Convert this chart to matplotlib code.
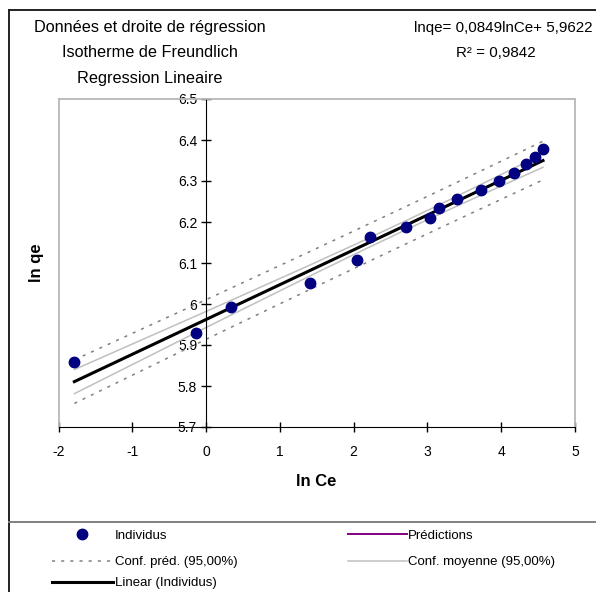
import numpy as np
import matplotlib
matplotlib.use('Agg')
import matplotlib.pyplot as plt
from matplotlib.lines import Line2D

plt.rcParams['font.family'] = ['Liberation Sans', 'DejaVu Sans']

# Freundlich isotherm, linearised: ln qe against ln Ce
ln_ce = [-1.785, -0.136, 0.334, 1.41, 2.04, 2.226, 2.71, 3.04,
         3.16, 3.405, 3.73, 3.974, 4.178, 4.34, 4.462, 4.566]
ln_qe = [5.858, 5.930, 5.993, 6.051, 6.107, 6.163, 6.188, 6.209,
         6.235, 6.256, 6.277, 6.299, 6.320, 6.341, 6.358, 6.378]

slope = 0.0849
intercept = 5.9622
eq_label = 'lnqe= 0,0849lnCe+ 5,9622'
r2_label = 'R² = 0,9842'
t_975 = 2.145  # Student t, 14 ddl

x_ticks = [-2, -1, 0, 1, 2, 3, 4, 5]
y_ticks = [5.7, 5.8, 5.9, 6.0, 6.1, 6.2, 6.3, 6.4, 6.5]
y_tick_labels = ['5.7', '5.8', '5.9', '6', '6.1', '6.2', '6.3', '6.4', '6.5']

title_lines = ['Données et droite de régression',
               'Isotherme de Freundlich',
               'Regression Lineaire']

W, H = 596, 592
fig = plt.figure(figsize=(W / 100, H / 100), dpi=100)


def fx(px):
    return px / W


def fy(py):
    return 1 - py / H


ax = fig.add_axes([fx(58.5), fy(427), fx(575) - fx(58.5), fy(99) - fy(427)])

# regression + 95% bands
x = np.array(ln_ce)
y = np.array(ln_qe)
order = np.argsort(x)
xs = x[order]
fit = intercept + slope * xs
n = len(x)
resid = y - (intercept + slope * x)
s = np.sqrt(np.sum(resid ** 2) / (n - 2))
sxx = np.sum((x - x.mean()) ** 2)
h_mean = t_975 * s * np.sqrt(1 / n + (xs - x.mean()) ** 2 / sxx)
h_pred = t_975 * s * np.sqrt(1 + 1 / n + (xs - x.mean()) ** 2 / sxx)

pred_style = dict(color='#808080', lw=1.1, linestyle=(0, (2, 4)))
mean_style = dict(color='#c0c0c0', lw=1.1)

ax.plot(xs, fit + h_pred, **pred_style, zorder=2)
ax.plot(xs, fit - h_pred, **pred_style, zorder=2)
ax.plot(xs, fit + h_mean, **mean_style, zorder=2)
ax.plot(xs, fit - h_mean, **mean_style, zorder=2)
ax.plot(xs, fit, color='#800080', lw=1.1, zorder=3)
ax.plot(xs, fit, color='black', lw=2.2, zorder=4)
ax.plot(x, y, 'o', color='#000080', ms=7.5, zorder=5)

ax.set_xlim(-2, 5)
ax.set_ylim(5.7, 6.5)
ax.set_xticks(x_ticks)
ax.set_xticklabels([str(v) for v in x_ticks])
ax.set_yticks(y_ticks)
ax.set_yticklabels(y_tick_labels)

ax.spines['left'].set_position(('data', 0))
ax.spines['left'].set_color('black')
ax.spines['bottom'].set_color('black')
for side in ['top', 'right']:
    ax.spines[side].set_color('#b8b8b8')
    ax.spines[side].set_linewidth(1.3)
ax.add_line(Line2D([0, 0], [0, 1], transform=ax.transAxes, color='#b8b8b8',
                   lw=1.3, clip_on=False))

ax.tick_params(axis='both', direction='inout', length=7, width=1,
               labelsize=10, colors='black')
ax.tick_params(axis='x', pad=9.2)
ax.tick_params(axis='y', pad=2.9)

# axis titles
fig.text(fx(316), fy(482), 'ln Ce', ha='center', va='center',
         size=12, weight='bold')
fig.text(fx(37), fy(263), 'ln qe', ha='center', va='center',
         size=12, weight='bold', rotation=90)

# titles and equation
for txt, base in zip(title_lines, [31.7, 57.3, 83.3]):
    fig.text(fx(150), fy(base), txt, ha='center', va='baseline', size=11.7)
fig.text(fx(503), fy(31.7), eq_label, ha='center', va='baseline', size=10.9)
fig.text(fx(496), fy(57.3), r2_label, ha='center', va='baseline', size=10.9)

# outer frame and legend separator
fig.add_artist(Line2D([fx(8.5), fx(8.5)], [fy(10), fy(600)], color='#222222', lw=1.4))
fig.add_artist(Line2D([fx(8.5), fx(600)], [fy(10), fy(10)], color='#222222', lw=1.4))
fig.add_artist(Line2D([fx(8.5), fx(600)], [fy(521.5), fy(521.5)], color='#808080', lw=1.4))

# legend
fig.add_artist(Line2D([fx(81.7)], [fy(534.3)], marker='o', color='#000080',
                      ms=7.5, linestyle='none'))
fig.text(fx(115), fy(539.3), 'Individus', va='baseline', size=9.5)
fig.add_artist(Line2D([fx(51.7), fx(113)], [fy(561), fy(561)], **pred_style))
fig.text(fx(115), fy(565), 'Conf. préd. (95,00%)', va='baseline', size=9.5)
fig.add_artist(Line2D([fx(51.7), fx(113)], [fy(581.7), fy(581.7)], color='black', lw=2.2))
fig.text(fx(115), fy(586), 'Linear (Individus)', va='baseline', size=9.5)

fig.add_artist(Line2D([fx(348), fx(406.7)], [fy(534.3), fy(534.3)], color='#800080', lw=1.4))
fig.text(fx(407.5), fy(539.3), 'Prédictions', va='baseline', size=9.5)
fig.add_artist(Line2D([fx(348), fx(406.7)], [fy(560.5), fy(560.5)], **mean_style))
fig.text(fx(407.5), fy(565), 'Conf. moyenne (95,00%)', va='baseline', size=9.5)

fig.savefig('out.png', dpi=100)
